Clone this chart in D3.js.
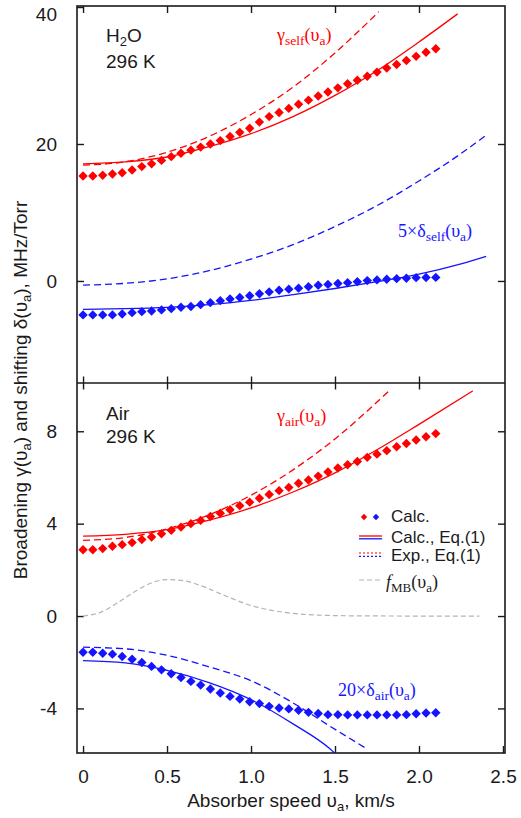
<!DOCTYPE html>
<html>
<head>
<meta charset="utf-8">
<script src="https://cdn.jsdelivr.net/npm/d3@7"></script>
<style>
	body { margin: 0; background: #fff; }
	.sans { font-family: Arial, "Liberation Sans", sans-serif; }
	.serif { font-family: "Times New Roman", "Liberation Serif", serif; }
</style>
</head>
<body>
<svg id="chart" width="521" height="818"></svg>
<script>
'use strict';

//Absorber speeds of the calculated points, km/s
var speeds = [0, 0.058, 0.117, 0.175, 0.233, 0.292, 0.35, 0.408, 0.467, 0.525, 0.583, 0.642,
	0.7, 0.758, 0.817, 0.875, 0.933, 0.992, 1.05, 1.108, 1.167, 1.225, 1.283, 1.342, 1.4,
	1.458, 1.517, 1.575, 1.633, 1.692, 1.75, 1.808, 1.867, 1.925, 1.983, 2.042, 2.1];

//Calculated points (diamonds)
var gammaSelfCalc = [15.33, 15.33, 15.43, 15.62, 15.81, 16.2, 16.7, 17.1, 17.6, 18.15, 18.65, 19.1,
	19.55, 20.0, 20.5, 21.1, 21.7, 22.3, 23.2, 24.0, 24.6, 25.2, 25.8, 26.4, 27.0,
	27.6, 28.2, 28.8, 29.3, 29.9, 30.5, 31.1, 31.6, 32.2, 32.8, 33.4, 33.9];
var deltaSelfCalc = [-4.96, -4.96, -4.96, -4.96, -4.82, -4.63, -4.48, -4.38, -4.23, -4.04, -3.84, -3.72,
	-3.46, -3.17, -2.88, -2.62, -2.42, -2.16, -1.87, -1.6, -1.35, -1.2, -1.05, -0.85, -0.62,
	-0.5, -0.38, -0.25, -0.1, 0.05, 0.15, 0.25, 0.34, 0.4, 0.48, 0.5, 0.52];
var gammaAirCalc = [2.87, 2.87, 2.92, 3.02, 3.09, 3.18, 3.31, 3.42, 3.56, 3.71, 3.85, 4.0,
	4.14, 4.31, 4.45, 4.6, 4.78, 4.93, 5.1, 5.26, 5.43, 5.57, 5.75, 5.89, 6.06,
	6.24, 6.41, 6.55, 6.69, 6.87, 7.01, 7.16, 7.33, 7.47, 7.62, 7.76, 7.9];
var deltaAirCalc = [-1.57, -1.57, -1.61, -1.65, -1.75, -1.87, -2.01, -2.18, -2.33, -2.5, -2.66, -2.83,
	-2.99, -3.16, -3.33, -3.48, -3.59, -3.71, -3.79, -3.91, -3.98, -4.02, -4.08, -4.17, -4.22,
	-4.27, -4.27, -4.28, -4.28, -4.28, -4.28, -4.28, -4.28, -4.27, -4.23, -4.2, -4.19];

//Eq.(1) curves, [speed, value]
var gammaSelfEq1 = [[0, 17.1], [0.25, 17.4], [0.5, 18.1], [0.75, 19.6], [1.0, 21.5], [1.25, 24.0],
	[1.5, 27.1], [1.75, 30.7], [2.0, 34.9], [2.23, 39.0]];
var gammaSelfExp = [[0, 16.9], [0.25, 17.4], [0.5, 18.8], [0.75, 21.1], [1.0, 24.3], [1.25, 28.3],
	[1.5, 33.3], [1.76, 39.3]];
var deltaSelfEq1 = [[0, -4.15], [0.25, -4.05], [0.5, -3.85], [0.75, -3.45], [1.0, -2.85], [1.25, -2.0],
	[1.5, -1.1], [1.75, -0.1], [2.0, 1.0], [2.25, 2.5], [2.4, 3.6]];
var deltaSelfExp = [[0, -0.6], [0.25, -0.35], [0.5, 0.3], [0.75, 1.5], [1.0, 3.2], [1.25, 5.3],
	[1.5, 7.95], [1.75, 11.0], [2.0, 14.6], [2.25, 18.6], [2.4, 21.3]];
var gammaAirEq1 = [[0, 3.46], [0.25, 3.54], [0.5, 3.74], [0.75, 4.15], [1.0, 4.68], [1.25, 5.37],
	[1.5, 6.2], [1.75, 7.2], [2.0, 8.3], [2.32, 9.75]];
var gammaAirExp = [[0, 3.28], [0.25, 3.4], [0.5, 3.77], [0.75, 4.38], [1.0, 5.23], [1.25, 6.33],
	[1.5, 7.67], [1.82, 9.74]];
var deltaAirEq1 = [[0, -1.93], [0.25, -2.03], [0.5, -2.35], [0.75, -2.88], [1.0, -3.62], [1.25, -4.67],
	[1.47, -5.75], [1.5, -5.95]];
var deltaAirExp = [[0, -1.35], [0.25, -1.42], [0.5, -1.7], [0.75, -2.2], [1.0, -2.8], [1.25, -3.76],
	[1.47, -4.77], [1.69, -5.75]];

//Maxwell-Boltzmann speed distribution
var fMB = [[0, 0], [0.1, 0.15], [0.2, 0.55], [0.3, 1.02], [0.4, 1.41], [0.5, 1.58], [0.6, 1.53],
	[0.7, 1.32], [0.8, 1.02], [0.9, 0.72], [1.0, 0.45], [1.1, 0.28], [1.2, 0.16], [1.3, 0.08],
	[1.4, 0.04], [1.5, 0.02], [1.7, 0.005], [2.0, 0], [2.36, 0]];

//Tick values
var xTicks = [0, 0.5, 1.0, 1.5, 2.0, 2.5];
var yTopTicks = [0, 20, 40];
var yBotTicks = [-4, 0, 4, 8];

var RED = "#ff0000";
var BLUE = "#1414ff";
var GRAY = "#b4b4b4";
var INK = "#1a1a1a";

var svg = d3.select("#chart");

//Frame edges
var frameLeft = 77, frameRight = 505, frameTop = 6, frameMid = 383, frameBottom = 753;

var x = d3.scaleLinear().domain([-0.036, 2.512]).range([frameLeft, frameRight]);
var yTop = d3.scaleLinear().domain([-14.9, 40.15]).range([frameMid, frameTop]);
var yBot = d3.scaleLinear().domain([-5.93, 10.09]).range([frameBottom, frameMid]);

//Clip paths for the two panels
var defs = svg.append("defs");
defs.append("clipPath").attr("id", "clipTop").append("rect")
	.attr("x", frameLeft).attr("y", frameTop).attr("width", frameRight - frameLeft).attr("height", frameMid - frameTop);
defs.append("clipPath").attr("id", "clipBot").append("rect")
	.attr("x", frameLeft).attr("y", frameMid).attr("width", frameRight - frameLeft).attr("height", frameBottom - frameMid);

var xFmt = function(d) { return d === 0 ? "0" : d3.format(".1f")(d); };
var tickLen = 7;

function styleAxis(g) {
	g.select(".domain").remove();
	g.selectAll(".tick line").attr("stroke", INK).attr("stroke-width", 1.4);
	g.selectAll(".tick text").attr("fill", INK).attr("class", "sans").attr("font-size", 19);
}

//X axes: labelled bottom, blank top and divider
svg.append("g").attr("transform", "translate(0," + frameBottom + ")")
	.call(d3.axisBottom(x).tickValues(xTicks).tickFormat(xFmt).tickSizeInner(-tickLen).tickSizeOuter(0).tickPadding(16.5))
	.call(styleAxis);
svg.append("g").attr("transform", "translate(0," + frameTop + ")")
	.call(d3.axisTop(x).tickValues(xTicks.slice(0, 5)).tickFormat("").tickSizeInner(-tickLen).tickSizeOuter(0))
	.call(styleAxis);
svg.append("g").attr("transform", "translate(0," + frameMid + ")")
	.call(d3.axisTop(x).tickValues(xTicks.slice(0, 5)).tickFormat("").tickSizeInner(6.5).tickSizeOuter(0))
	.call(styleAxis);
svg.append("g").attr("transform", "translate(0," + frameMid + ")")
	.call(d3.axisBottom(x).tickValues(xTicks.slice(0, 5)).tickFormat("").tickSizeInner(6.5).tickSizeOuter(0))
	.call(styleAxis);

//Y axes
var yLeftTop = svg.append("g").attr("transform", "translate(" + frameLeft + ",0)")
	.call(d3.axisLeft(yTop).tickValues(yTopTicks).tickFormat(String).tickSizeInner(-tickLen).tickSizeOuter(0).tickPadding(20))
	.call(styleAxis);
//The "40" label sits a little below its tick
yLeftTop.selectAll(".tick").filter(function(d) { return d === 40; }).select("text").attr("dy", "0.72em");

svg.append("g").attr("transform", "translate(" + frameRight + ",0)")
	.call(d3.axisRight(yTop).tickValues([0, 20]).tickFormat("").tickSizeInner(-tickLen).tickSizeOuter(0))
	.call(styleAxis);
svg.append("g").attr("transform", "translate(" + frameLeft + ",0)")
	.call(d3.axisLeft(yBot).tickValues(yBotTicks).tickFormat(String).tickSizeInner(-tickLen).tickSizeOuter(0).tickPadding(20))
	.call(styleAxis);
svg.append("g").attr("transform", "translate(" + frameRight + ",0)")
	.call(d3.axisRight(yBot).tickValues(yBotTicks).tickFormat("").tickSizeInner(-tickLen).tickSizeOuter(0))
	.call(styleAxis);

//Frame and divider
svg.append("rect").attr("x", frameLeft).attr("y", frameTop).attr("width", frameRight - frameLeft).attr("height", frameBottom - frameTop)
	.attr("fill", "none").attr("stroke", INK).attr("stroke-width", 1.6);
svg.append("line").attr("x1", frameLeft).attr("x2", frameRight).attr("y1", frameMid).attr("y2", frameMid)
	.attr("stroke", INK).attr("stroke-width", 1.6);

//Text with subscripts: parts = [[text, isSub, isItalic], ...]
function richText(parent, px, py, parts, size, subSize, cls, color) {
	var t = parent.append("text").attr("x", px).attr("y", py)
		.attr("class", cls).attr("font-size", size).attr("fill", color);
	var shift = 0;
	parts.forEach(function(p) {
		var target = p[1] ? Math.round(size * 0.22) : 0;
		var span = t.append("tspan").attr("dy", target - shift).text(p[0]);
		if(p[1])
			span.attr("font-size", subSize);
		if(p[2])
			span.attr("font-style", "italic");
		shift = target;
	});
	return t;
}

//Curves
function drawCurve(panel, yScale, data, color, dash, width) {
	var line = d3.line()
		.x(function(d) { return x(d[0]); })
		.y(function(d) { return yScale(d[1]); })
		.curve(d3.curveMonotoneX);

	panel.append("path").datum(data)
		.attr("d", line)
		.attr("fill", "none")
		.attr("stroke", color)
		.attr("stroke-width", width || 1.3)
		.attr("stroke-dasharray", dash || null);
}

var diamond = d3.symbol().type(d3.symbolSquare).size(44);

function drawPoints(panel, yScale, values, color) {
	panel.append("g").selectAll("path")
		.data(values)
		.enter().append("path")
		.attr("d", diamond)
		.attr("fill", color)
		.attr("transform", function(d, i) {
			return "translate(" + x(speeds[i]) + "," + yScale(d) + ") rotate(45)";
		});
}

var topPanel = svg.append("g").attr("clip-path", "url(#clipTop)");
var botPanel = svg.append("g").attr("clip-path", "url(#clipBot)");

drawCurve(topPanel, yTop, gammaSelfExp, RED, "7,4");
drawCurve(topPanel, yTop, gammaSelfEq1, RED);
drawCurve(topPanel, yTop, deltaSelfExp, BLUE, "7,4");
drawCurve(topPanel, yTop, deltaSelfEq1, BLUE);
drawPoints(topPanel, yTop, gammaSelfCalc, RED);
drawPoints(topPanel, yTop, deltaSelfCalc, BLUE);

drawCurve(botPanel, yBot, fMB, GRAY, "5,3", 1.2);
drawCurve(botPanel, yBot, gammaAirExp, RED, "7,4");
drawCurve(botPanel, yBot, gammaAirEq1, RED);
drawCurve(botPanel, yBot, deltaAirExp, BLUE, "7,4");
drawCurve(botPanel, yBot, deltaAirEq1, BLUE);
drawPoints(botPanel, yBot, gammaAirCalc, RED);
drawPoints(botPanel, yBot, deltaAirCalc, BLUE);

//Panel labels
richText(svg, 106, 42, [["H", false], ["2", true], ["O", false]], 19, 13, "sans", INK);
richText(svg, 106, 68, [["296 K", false]], 19, 13, "sans", INK);
richText(svg, 106, 420, [["Air", false]], 19, 13, "sans", INK);
richText(svg, 106, 443, [["296 K", false]], 19, 13, "sans", INK);

//Curve annotations
richText(svg, 277, 41, [["γ", false], ["self", true], ["(υ", false], ["a", true], [")", false]], 18, 13.5, "serif", RED);
richText(svg, 398, 237, [["5×δ", false], ["self", true], ["(υ", false], ["a", true], [")", false]], 18, 13.5, "serif", BLUE);
richText(svg, 277, 422, [["γ", false], ["air", true], ["(υ", false], ["a", true], [")", false]], 18, 13.5, "serif", RED);
richText(svg, 338, 696, [["20×δ", false], ["air", true], ["(υ", false], ["a", true], [")", false]], 18, 13.5, "serif", BLUE);

//Legend
var legend = svg.append("g");
var smallDiamond = d3.symbol().type(d3.symbolSquare).size(20);
legend.append("path").attr("d", smallDiamond).attr("fill", RED).attr("transform", "translate(364,517) rotate(45)");
legend.append("path").attr("d", smallDiamond).attr("fill", BLUE).attr("transform", "translate(376,517) rotate(45)");
richText(legend, 391, 522, [["Calc.", false]], 17, 12, "sans", INK);

legend.append("line").attr("x1", 359).attr("x2", 382).attr("y1", 536).attr("y2", 536).attr("stroke", RED).attr("stroke-width", 1.3);
legend.append("line").attr("x1", 359).attr("x2", 382).attr("y1", 538.8).attr("y2", 538.8).attr("stroke", BLUE).attr("stroke-width", 1.3);
richText(legend, 391, 542.5, [["Calc., Eq.(1)", false]], 17, 12, "sans", INK);

legend.append("line").attr("x1", 359).attr("x2", 382).attr("y1", 553).attr("y2", 553).attr("stroke", RED).attr("stroke-width", 1.2).attr("stroke-dasharray", "2,2");
legend.append("line").attr("x1", 359).attr("x2", 382).attr("y1", 556.3).attr("y2", 556.3).attr("stroke", BLUE).attr("stroke-width", 1.2).attr("stroke-dasharray", "2,2");
richText(legend, 391, 561, [["Exp., Eq.(1)", false]], 17, 12, "sans", INK);

legend.append("line").attr("x1", 359).attr("x2", 382).attr("y1", 580).attr("y2", 580).attr("stroke", GRAY).attr("stroke-width", 1.2).attr("stroke-dasharray", "5,3");
richText(legend, 386, 588, [["f", false, true], ["MB", true], ["(υ", false], ["a", true], [")", false]], 18, 13, "serif", INK);

//Axis titles
richText(svg, 291, 807, [["Absorber speed υ", false], ["a", true], [", km/s", false]], 19, 13, "sans", INK)
	.attr("text-anchor", "middle");
richText(svg, 0, 0, [["Broadening γ(υ", false], ["a", true], [") and shifting δ(υ", false], ["a", true], ["), MHz/Torr", false]], 19, 13, "sans", INK)
	.attr("text-anchor", "middle")
	.attr("transform", "translate(26.5,390) rotate(-90)");
</script>
</body>
</html>
